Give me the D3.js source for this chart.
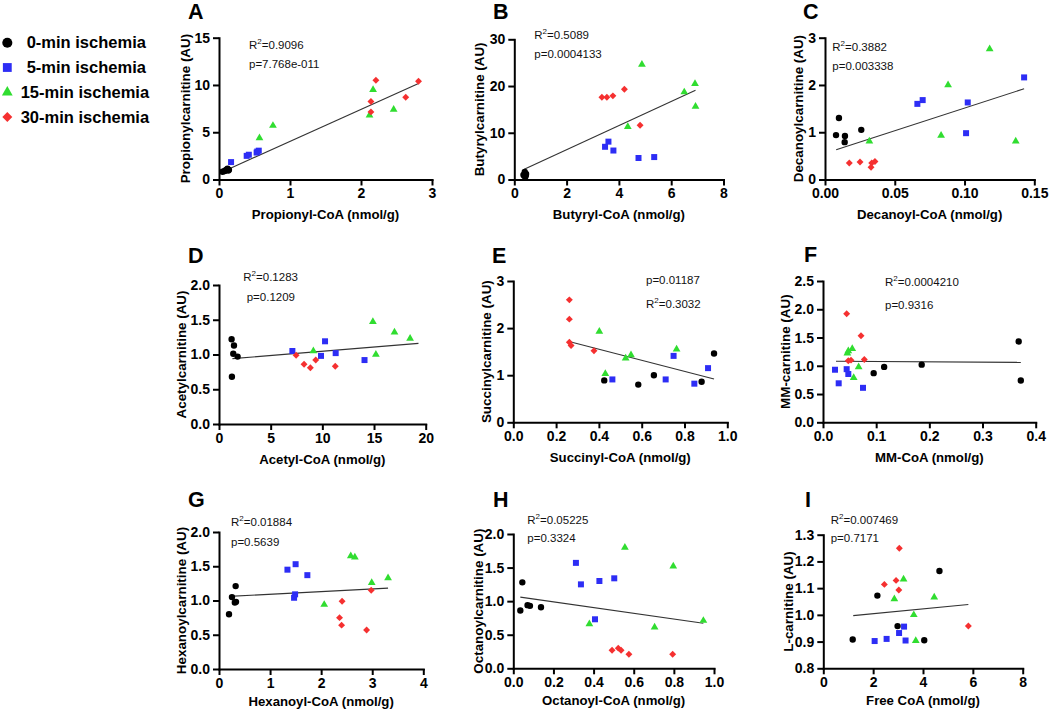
<!DOCTYPE html>
<html><head><meta charset="utf-8">
<script src="https://cdn.jsdelivr.net/npm/d3@7"></script>
<style>body{margin:0;background:#fff}svg{display:block}</style>
</head><body><svg id="c" width="1050" height="710"></svg>
<script>
// ---------- categories ----------
const groups = ["0-min ischemia", "5-min ischemia", "15-min ischemia", "30-min ischemia"];
const panelIds = ["A","B","C","D","E","F","G","H","I"];
const xLabels = ["Propionyl-CoA (nmol/g)","Butyryl-CoA (nmol/g)","Decanoyl-CoA (nmol/g)",
  "Acetyl-CoA (nmol/g)","Succinyl-CoA (nmol/g)","MM-CoA (nmol/g)",
  "Hexanoyl-CoA (nmol/g)","Octanoyl-CoA (nmol/g)","Free CoA (nmol/g)"];
const yLabels = ["Propionylcarnitine (AU)","Butyrylcarnitine (AU)","Decanoylcarnitine (AU)",
  "Acetylcarnitine (AU)","Succinylcarnitine (AU)","MM-carnitine (AU)",
  "Hexanoylcarnitine (AU)","Octanoylcarnitine (AU)","L-carnitine (AU)"];
const rSquared = ["0.9096","0.5089","0.3882","0.1283","0.3032","0.0004210","0.01884","0.05225","0.007469"];
const pValues = ["7.768e-011","0.0004133","0.003338","0.1209","0.01187","0.9316","0.5639","0.3324","0.7171"];

// ---------- axis domains & ticks ----------
const xDomains = [[0,3],[0,8],[0,0.15],[0,20],[0,1],[0,0.4],[0,4],[0,1],[0,8]];
const yDomains = [[0,15],[0,30],[0,3],[0,2],[0,3],[0,2.5],[0,2],[0,2],[0.8,1.3]];
const xTicks = [[0,1,2,3],[0,2,4,6,8],[0,0.05,0.1,0.15],[0,5,10,15,20],[0,0.2,0.4,0.6,0.8,1.0],
  [0,0.1,0.2,0.3,0.4],[0,1,2,3,4],[0,0.2,0.4,0.6,0.8,1.0],[0,2,4,6,8]];
const yTicks = [[0,5,10,15],[0,10,20,30],[0,1,2,3],[0,0.5,1,1.5,2],[0,1,2,3],[0,0.5,1,1.5,2,2.5],
  [0,0.5,1,1.5,2],[0,0.5,1,1.5,2],[0.8,0.9,1.0,1.1,1.2,1.3]];
const xFormats = ["d","d",".2f","d",".1f",".1f","d",".1f","d"];
const yFormats = ["d","d","d",".1f","d",".1f",".1f",".1f",".1f"];

// ---------- data: [x, y] per group ----------
const A0  = [[0.05,0.82],[0.08,0.9],[0.1,1.0],[0.12,1.15],[0.14,1.02],[0.13,0.95]];
const A5  = [[0.17,1.84],[0.39,2.5],[0.42,2.62],[0.53,2.85],[0.56,3.05],[0.54,2.95]];
const A15 = [[0.57,4.4],[0.76,5.7],[2.12,6.8],[2.17,9.5],[2.46,7.4]];
const A30 = [[2.14,7.15],[2.14,8.25],[2.21,10.5],[2.63,8.7],[2.81,10.4]];
const Afit = [[0.03,0.75],[2.81,10.15]];

const B0  = [[0.35,1.0],[0.4,1.6],[0.42,0.6],[0.45,1.2],[0.38,0.8],[0.44,0.9]];
const B5  = [[3.47,7.0],[3.6,8.1],[3.79,6.2],[4.75,4.6],[5.35,4.8]];
const B15 = [[4.88,24.6],[4.34,11.3],[6.5,18.7],[6.91,20.5],[6.93,15.6]];
const B30 = [[3.35,17.6],[3.54,17.6],[3.77,17.9],[4.21,19.3],[4.81,11.6]];
const Bfit = [[0.38,2.2],[6.93,19.1]];

const C0  = [[0.0079,0.94],[0.0100,1.3],[0.0143,0.92],[0.0141,0.79],[0.026,1.05]];
const C5  = [[0.0662,1.6],[0.0700,1.68],[0.1023,1.63],[0.1011,0.98],[0.1427,2.16]];
const C15 = [[0.0318,0.81],[0.0832,0.93],[0.0882,2.0],[0.118,2.76],[0.1367,0.81]];
const C30 = [[0.0174,0.35],[0.0251,0.37],[0.033,0.26],[0.0335,0.35],[0.0358,0.38]];
const Cfit = [[0.008,0.63],[0.1427,1.92]];

const D0  = [[1.22,1.22],[1.45,1.13],[1.38,1.01],[1.8,0.97],[1.25,0.68]];
const D5  = [[7.1,1.05],[10.26,1.19],[9.87,0.98],[11.29,1.02],[14.08,0.92]];
const D15 = [[9.13,1.05],[14.89,1.47],[15.18,1.0],[16.98,1.32],[18.49,1.23]];
const D30 = [[7.46,0.99],[8.23,0.86],[8.84,0.81],[9.36,0.92],[11.25,0.83]];
const Dfit = [[1.3,0.94],[19.3,1.16]];

const E0  = [[0.425,0.89],[0.584,0.8],[0.657,1.0],[0.88,0.86],[0.938,1.46]];
const E5  = [[0.463,0.91],[0.712,0.91],[0.749,1.41],[0.846,0.82],[0.91,1.15]];
const E15 = [[0.402,1.93],[0.43,1.03],[0.525,1.36],[0.55,1.43],[0.763,1.55]];
const E30 = [[0.262,2.6],[0.262,2.19],[0.262,1.7],[0.27,1.63],[0.377,1.52]];
const Efit = [[0.265,1.71],[0.938,0.92]];

const F0  = [[0.0953,0.87],[0.115,0.98],[0.1856,1.02],[0.368,1.43],[0.372,0.74]];
const F5  = [[0.0226,0.93],[0.0295,0.69],[0.0445,0.94],[0.0476,0.855],[0.0752,0.61]];
const F15 = [[0.0458,1.22],[0.0476,1.26],[0.055,1.30],[0.0577,0.79],[0.067,0.98]];
const F30 = [[0.0445,1.92],[0.0715,1.53],[0.0476,1.09],[0.0527,1.1],[0.0777,1.11]];
const Ffit = [[0.0245,1.08],[0.372,1.06]];

const G0  = [[0.196,0.8],[0.254,1.05],[0.326,1.21],[0.333,0.98],[0.31,0.97]];
const G5  = [[1.34,1.45],[1.5,1.53],[1.73,1.37],[1.49,1.09],[1.47,1.04]];
const G15 = [[2.06,0.94],[2.58,1.65],[2.66,1.63],[2.99,1.26],[3.31,1.33]];
const G30 = [[2.41,0.99],[2.36,0.75],[2.4,0.64],[2.89,0.57],[2.98,1.15]];
const Gfit = [[0.196,1.06],[3.31,1.18]];

const H0  = [[0.035,0.86],[0.045,1.28],[0.071,0.94],[0.083,0.93],[0.138,0.91]];
const H5  = [[0.312,1.57],[0.337,1.25],[0.429,1.3],[0.503,1.34],[0.407,0.73]];
const H15 = [[0.379,0.66],[0.556,1.8],[0.704,0.61],[0.797,1.52],[0.947,0.71]];
const H30 = [[0.492,0.27],[0.523,0.3],[0.537,0.27],[0.576,0.21],[0.794,0.21]];
const Hfit = [[0.035,1.06],[0.947,0.67]];

const I0  = [[1.18,0.908],[2.17,1.072],[2.98,0.958],[4.05,0.905],[4.66,1.164]];
const I5  = [[2.06,0.902],[2.54,0.91],[3.04,0.932],[3.24,0.956],[3.3,0.904]];
const I15 = [[2.85,1.059],[3.22,1.133],[3.63,1.0],[3.71,0.903],[4.45,1.066]];
const I30 = [[2.45,1.114],[2.92,1.129],[3.03,1.093],[3.05,1.249],[5.82,0.958]];
const Ifit = [[1.2,0.997],[5.82,1.039]];

const panelData = [[A0,A5,A15,A30],[B0,B5,B15,B30],[C0,C5,C15,C30],[D0,D5,D15,D30],
  [E0,E5,E15,E30],[F0,F5,F15,F30],[G0,G5,G15,G30],[H0,H5,H15,H30],[I0,I5,I15,I30]];
const panelFits = [Afit,Bfit,Cfit,Dfit,Efit,Ffit,Gfit,Hfit,Ifit];

// ---------- layout & style ----------
const colors = ["#000000","#2d2df5","#30dd30","#f53030"];
const FONT = "'Liberation Sans', Arial, Helvetica, sans-serif";
const layout = [
  {x0:219,  x1:432,    yTop:37.7,  yBot:179.5, lx:188, ly:19,    rx:249,   ry:49,    px:249,   py:68.3,  ylx:185,   xlo:39.5},
  {x0:514.3,x1:723.5,  yTop:39.3,  yBot:179.5, lx:493, ly:19,    rx:534.3, ry:39.3,  px:534.3, py:58.3,  ylx:479.3, xlo:39.5},
  {x0:825,  x1:1034.3, yTop:37.7,  yBot:179.5, lx:803, ly:19,    rx:832.3, ry:51,    px:832.3, py:70,    ylx:798.3, xlo:39.5},
  {x0:219,  x1:425.7,  yTop:285,   yBot:424,   lx:188, ly:263,   rx:243.3, ry:281,   px:246.7, py:300.5, ylx:181.7, xlo:39.5},
  {x0:513.3,x1:727.3,  yTop:281,   yBot:422.3, lx:492, ly:263,   rx:646,   ry:307.5, px:646,   py:284,   ylx:486.7, xlo:39.5},
  {x0:823,  x1:1035.7, yTop:281,   yBot:422.3, lx:804, ly:262,   rx:885,   ry:286,   px:885,   py:308.5, ylx:785,   xlo:39.5},
  {x0:219,  x1:423.3,  yTop:532,   yBot:669,   lx:188, ly:507,   rx:231,   ry:526,   px:231,   py:545.5, ylx:181.7, xlo:37},
  {x0:513.3,x1:714,    yTop:534,   yBot:668.3, lx:493, ly:507,   rx:527.3, ry:523.5, px:527.3, py:542,   ylx:478.3, xlo:37},
  {x0:823.3,x1:1022.7, yTop:534.7, yBot:668.3, lx:805, ly:507,   rx:830.7, ry:523.5, px:830.7, py:542,   ylx:788.3, xlo:37}
];

const svg = d3.select("#c");
svg.append("rect").attr("width",1050).attr("height",710).attr("fill","#fff");

function marker(k, big) {
  if (k === 0) return {d: d3.symbol(d3.symbolCircle, big ? 80 : 32)(), rot: 0};
  if (k === 1) return {d: d3.symbol(d3.symbolSquare, big ? 78 : 36)(), rot: 0};
  if (k === 2) return {d: d3.symbol(d3.symbolTriangle, big ? 50 : 26)(), rot: 0};
  return {d: d3.symbol(d3.symbolSquare, big ? 50 : 24)(), rot: 45};
}

function styleAxis(a) {
  a.attr("font-family", FONT).attr("font-size", 14).attr("font-weight", "bold");
  a.select(".domain").attr("stroke", "#000").attr("stroke-width", 2).attr("stroke-linecap","square");
  a.selectAll(".tick line").attr("stroke", "#000").attr("stroke-width", 2);
  a.selectAll(".tick text").attr("fill", "#000");
}

panelIds.forEach((id, i) => {
  const L = layout[i];
  const x = d3.scaleLinear().domain(xDomains[i]).range([L.x0, L.x1]);
  const y = d3.scaleLinear().domain(yDomains[i]).range([L.yBot, L.yTop]);
  const g = svg.append("g");

  const ya = g.append("g").attr("transform", `translate(${L.x0},0)`)
    .call(d3.axisLeft(y).tickValues(yTicks[i]).tickFormat(d3.format(yFormats[i]))
      .tickSize(6).tickSizeOuter(0).tickPadding(3));
  styleAxis(ya);
  const xa = g.append("g").attr("transform", `translate(0,${L.yBot})`)
    .call(d3.axisBottom(x).tickValues(xTicks[i]).tickFormat(d3.format(xFormats[i]))
      .tickSize(6).tickSizeOuter(0).tickPadding(3));
  styleAxis(xa);

  // axis titles
  g.append("text").attr("x", (L.x0 + L.x1) / 2).attr("y", L.yBot + L.xlo)
    .attr("text-anchor", "middle").attr("font-family", FONT).attr("font-size", 13.2)
    .attr("font-weight", "bold").text(xLabels[i]);
  g.append("text").attr("transform", `translate(${L.ylx},${(L.yTop + L.yBot) / 2}) rotate(-90)`)
    .attr("dy", "0.35em").attr("text-anchor", "middle").attr("font-family", FONT)
    .attr("font-size", 13.4).attr("font-weight", "bold").text(yLabels[i]);

  // panel letter
  g.append("text").attr("x", L.lx).attr("y", L.ly).attr("font-family", FONT)
    .attr("font-size", 21.5).attr("font-weight", "bold").text(id);

  // regression line
  const fit = panelFits[i];
  g.append("line").attr("x1", x(fit[0][0])).attr("y1", y(fit[0][1]))
    .attr("x2", x(fit[1][0])).attr("y2", y(fit[1][1]))
    .attr("stroke", "#333").attr("stroke-width", 1.1);

  // points
  panelData[i].forEach((pts, k) => {
    const m = marker(k, false);
    g.append("g").selectAll("path").data(pts).join("path")
      .attr("d", m.d)
      .attr("transform", d => `translate(${x(d[0])},${y(d[1])}) rotate(${m.rot})`)
      .attr("fill", colors[k]);
  });

  // statistics
  const r = g.append("text").attr("x", L.rx).attr("y", L.ry).attr("font-family", FONT)
    .attr("font-size", 11.5).attr("fill", "#111");
  r.append("tspan").text("R");
  r.append("tspan").attr("font-size", 8).attr("dy", -5).text("2");
  r.append("tspan").attr("dy", 5).text("=" + rSquared[i]);
  g.append("text").attr("x", L.px).attr("y", L.py).attr("font-family", FONT)
    .attr("font-size", 11.5).attr("fill", "#111").text("p=" + pValues[i]);
});

// legend
const legendX = [26.7, 26.7, 20.7, 20.7];
groups.forEach((name, k) => {
  const cy = 42.7 + k * 24.8;
  const m = marker(k, true);
  svg.append("path").attr("d", m.d)
    .attr("transform", `translate(7.3,${cy}) rotate(${m.rot})`).attr("fill", colors[k]);
  svg.append("text").attr("x", legendX[k]).attr("y", cy + 5.6).attr("font-family", FONT)
    .attr("font-size", 16.5).attr("font-weight", "bold").text(name);
});
</script>
</body></html>
